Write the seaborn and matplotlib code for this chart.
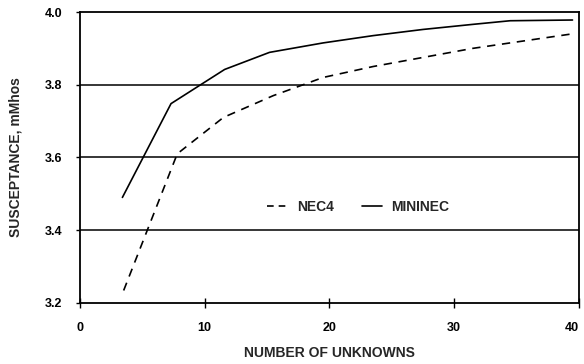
import matplotlib
matplotlib.use("Agg")
import matplotlib.pyplot as plt
import seaborn as sns
import pandas as pd
from matplotlib.lines import Line2D

# Data
nec4_x = [3.5, 7.8, 11.5, 15.5, 19.5, 23.5, 27.5, 31.5, 35.5, 39.5]
nec4_y = [3.234, 3.61, 3.71, 3.77, 3.82, 3.85, 3.875, 3.90, 3.92, 3.94]
mininec_x = [3.4, 7.3, 11.6, 15.2, 19.5, 23.5, 27.5, 31.5, 34.5, 39.5]
mininec_y = [3.49, 3.748, 3.842, 3.889, 3.915, 3.935, 3.952, 3.966, 3.976, 3.978]
series_names = ["NEC4", "MININEC"]
x_ticks = [0, 10, 20, 30, 40]
y_ticks = [3.2, 3.4, 3.6, 3.8, 4.0]

df = pd.concat([
    pd.DataFrame({"x": nec4_x, "y": nec4_y, "code": series_names[0]}),
    pd.DataFrame({"x": mininec_x, "y": mininec_y, "code": series_names[1]}),
])

sns.set_theme(style="white")
plt.rcParams["font.family"] = ["Liberation Sans", "DejaVu Sans"]
plt.rcParams["font.weight"] = "bold"

fig = plt.figure(figsize=(5.84, 3.64), dpi=100)
ax = fig.add_axes([0.137, 0.168, 0.854, 0.799])

sns.lineplot(data=df, x="x", y="y", hue="code", style="code",
             palette={"NEC4": "black", "MININEC": "black"},
             dashes={"NEC4": (5, 4), "MININEC": ""},
             linewidth=1.2, sort=False, estimator=None, ax=ax, legend=False)

for yv in [3.4, 3.6, 3.8]:
    ax.axhline(yv, color="black", linewidth=1.1, zorder=0)

ax.set_xlim(0, 40)
ax.set_ylim(3.2, 4.0)
ax.set_xticks(x_ticks)
ax.set_yticks(y_ticks)
ax.set_xticklabels([str(t) for t in x_ticks], fontsize=9, fontweight="bold")
ax.set_yticklabels([f"{t:.1f}" for t in y_ticks], fontsize=9, fontweight="bold")
ax.tick_params(axis="x", direction="inout", length=7, width=1, pad=10, colors="black", bottom=True)
ax.tick_params(axis="y", direction="out", length=3, width=1, pad=10, colors="black", left=True)
ax.get_xticklabels()[-1].set_horizontalalignment("right")
for s in ax.spines.values():
    s.set_visible(True)
    s.set_color("black")
    s.set_linewidth(1.3)

ax.set_xlabel("NUMBER OF UNKNOWNS", fontsize=10, fontweight="bold", labelpad=9)
ax.set_ylabel("SUSCEPTANCE, mMhos", fontsize=10, fontweight="bold", labelpad=16)

handles = [Line2D([], [], color="black", linestyle=(0, (4, 3)), linewidth=1.2),
           Line2D([], [], color="black", linestyle="-", linewidth=1.2)]
ax.legend(handles, series_names, loc="center", bbox_to_anchor=(0.558, 0.33),
          ncol=2, frameon=False, handlelength=1.5, handletextpad=0.65,
          columnspacing=2.0, prop={"weight": "bold", "size": 10})

fig.savefig("out.png", dpi=100)
